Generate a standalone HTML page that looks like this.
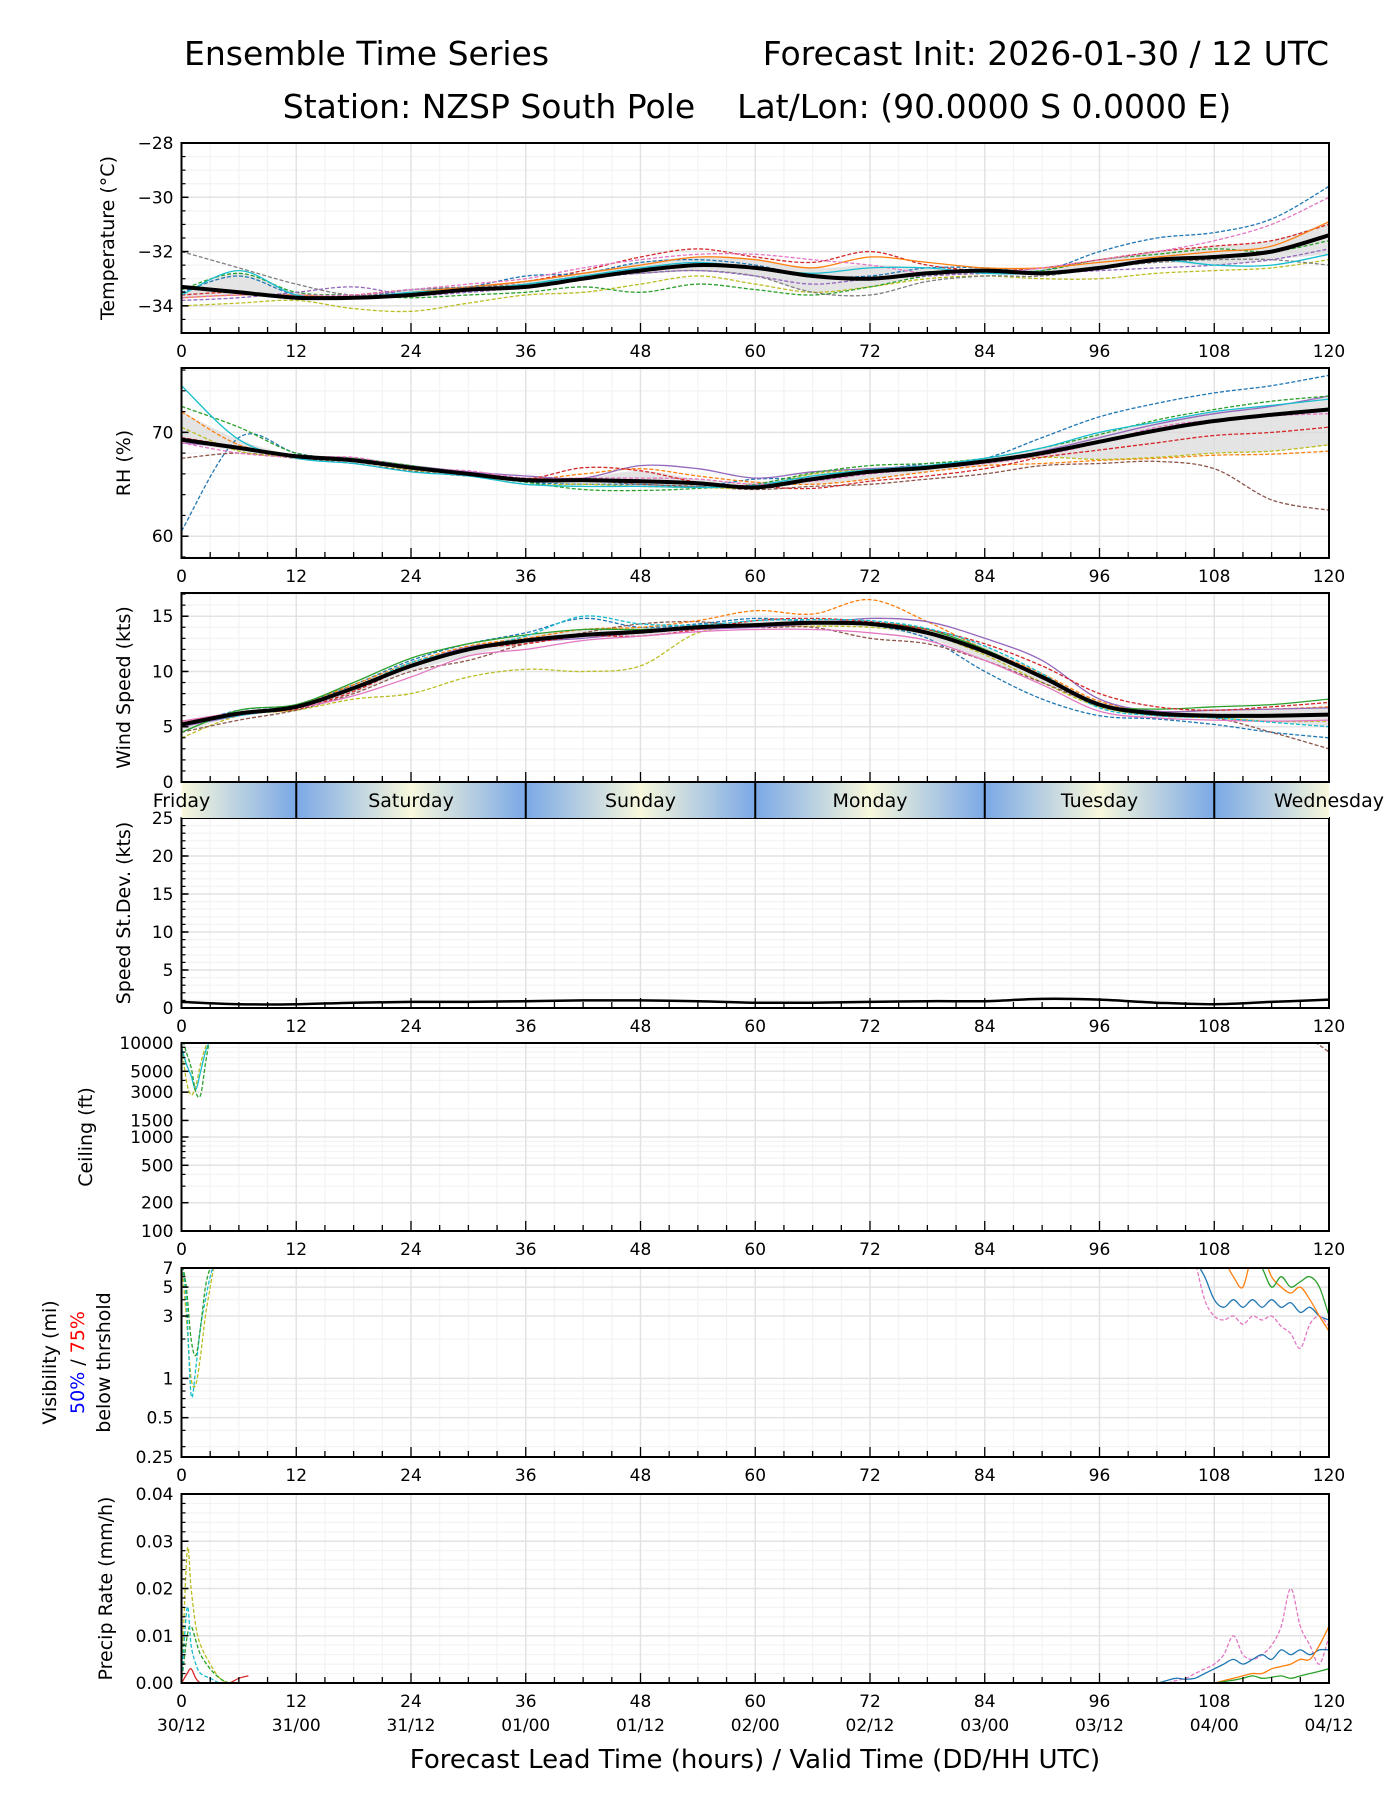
<!DOCTYPE html>
<html><head><meta charset="utf-8">
<style>
html,body{margin:0;padding:0;background:#fff}
svg{display:block;font-family:"DejaVu Sans","Liberation Sans",sans-serif}
</style></head>
<body>
<svg id="chart" width="1400" height="1800" viewBox="0 0 1400 1800" xmlns="http://www.w3.org/2000/svg">
<defs>
<linearGradient id="dayGrad" x1="181.5" x2="1329" y1="0" y2="0" gradientUnits="userSpaceOnUse">
<stop offset="0" stop-color="#f8f8dc"/><stop offset="0.1" stop-color="#7aa8e6"/>
<stop offset="0.2" stop-color="#f8f8dc"/><stop offset="0.3" stop-color="#7aa8e6"/>
<stop offset="0.4" stop-color="#f8f8dc"/><stop offset="0.5" stop-color="#7aa8e6"/>
<stop offset="0.6" stop-color="#f8f8dc"/><stop offset="0.7" stop-color="#7aa8e6"/>
<stop offset="0.8" stop-color="#f8f8dc"/><stop offset="0.9" stop-color="#7aa8e6"/>
<stop offset="1" stop-color="#f8f8dc"/>
</linearGradient>
</defs>
<text x="184" y="65" font-size="33">Ensemble Time Series</text>
<text x="1329" y="65" font-size="33" text-anchor="end">Forecast Init: 2026-01-30 / 12 UTC</text>
<text x="757" y="118" font-size="33" text-anchor="middle" style="white-space:pre" xml:space="preserve">Station: NZSP South Pole    Lat/Lon: (90.0000 S 0.0000 E)</text>
<text x="755" y="1768" font-size="26" text-anchor="middle">Forecast Lead Time (hours) / Valid Time (DD/HH UTC)</text>
<g id="plots"></g>
</svg>
<script>
const hours6=[0,6,12,18,24,30,36,42,48,54,60,66,72,78,84,90,96,102,108,114,120];
const xTicks=[0,12,24,36,48,60,72,84,96,108,120];
const dateLabels=["30/12","31/00","31/12","01/00","01/12","02/00","02/12","03/00","03/12","04/00","04/12"];
const dayNames=["Friday","Saturday","Sunday","Monday","Tuesday","Wednesday"];
const dayCenters=[0,24,48,72,96,120];

const tempMean=[-33.3,-33.5,-33.7,-33.7,-33.6,-33.4,-33.3,-33.0,-32.7,-32.5,-32.6,-32.9,-33.0,-32.8,-32.7,-32.8,-32.6,-32.3,-32.2,-32.0,-31.4];
const tempM1=[-33.6,-33.5,-33.7,-33.6,-33.4,-33.3,-33.1,-32.7,-32.2,-31.9,-32.2,-32.4,-32.0,-32.5,-32.7,-32.6,-32.3,-32.0,-31.8,-31.6,-31.0];
const tempM2=[-33.5,-32.9,-33.6,-33.7,-33.4,-33.3,-32.9,-32.8,-32.4,-32.3,-32.5,-32.9,-32.9,-32.6,-32.6,-32.7,-32.0,-31.5,-31.3,-30.8,-29.6];
const tempM3=[-34.0,-33.9,-33.8,-34.1,-34.2,-33.9,-33.6,-33.5,-33.2,-32.9,-33.2,-33.5,-33.3,-33.0,-32.9,-33.0,-33.0,-32.8,-32.7,-32.6,-32.3];
const tempM4=[-33.4,-32.8,-33.5,-33.6,-33.7,-33.6,-33.5,-33.3,-33.5,-33.2,-33.4,-33.6,-33.3,-32.9,-32.8,-32.7,-32.3,-32.1,-31.9,-32.0,-31.6];
const tempM5=[-33.7,-33.6,-33.6,-33.7,-33.5,-33.3,-33.1,-32.8,-32.5,-32.2,-32.3,-32.6,-32.2,-32.4,-32.6,-32.6,-32.4,-32.2,-32.0,-31.8,-30.9];
const tempM6=[-32.0,-32.6,-33.2,-33.6,-33.4,-33.3,-33.2,-32.9,-32.8,-32.7,-32.9,-33.5,-33.6,-33.1,-32.9,-32.9,-32.6,-32.4,-32.3,-32.3,-32.5];
const tempM7=[-33.7,-33.6,-33.6,-33.6,-33.4,-33.2,-33.0,-32.6,-32.3,-32.1,-32.1,-32.3,-32.5,-32.8,-32.8,-32.6,-32.3,-32.0,-31.6,-31.0,-30.0];
const tempM8=[-33.8,-33.7,-33.5,-33.3,-33.6,-33.5,-33.3,-33.0,-32.8,-32.7,-32.9,-33.2,-33.0,-32.9,-32.8,-32.8,-32.7,-32.6,-32.5,-32.3,-31.9];
const tempM9=[-33.6,-32.7,-33.6,-33.7,-33.5,-33.4,-33.2,-32.9,-32.6,-32.4,-32.6,-32.8,-32.6,-32.6,-32.8,-32.8,-32.6,-32.3,-32.5,-32.5,-32.1];

const rhMean=[69.3,68.5,67.7,67.3,66.6,66.0,65.4,65.4,65.3,65.1,64.7,65.5,66.2,66.6,67.2,68.0,69.1,70.2,71.1,71.7,72.2];
const rhM1=[60.5,69.5,68.0,67.2,66.6,66.0,65.2,65.0,65.0,64.8,65.5,65.6,66.3,67.0,67.5,69.5,71.5,72.8,73.8,74.5,75.5];
const rhM2=[67.5,68.0,67.5,67.0,66.3,65.8,65.6,65.4,65.0,64.8,64.5,64.8,65.0,65.5,66.0,66.8,67.0,67.2,66.5,63.5,62.5];
const rhM3=[72.0,68.8,67.8,67.3,66.5,66.2,65.5,66.0,66.5,65.8,65.2,65.0,65.5,66.2,66.8,67.0,67.3,67.5,67.8,67.9,68.2];
const rhM4=[69.0,68.5,67.8,67.5,66.8,66.2,65.8,65.6,66.8,66.5,65.6,66.2,66.5,66.8,67.2,68.2,69.5,70.8,71.8,72.5,73.5];
const rhM5=[70.5,68.2,67.6,67.2,66.4,65.9,65.0,65.0,64.8,64.7,64.7,66.0,66.4,66.6,67.2,67.6,67.4,67.6,68.0,68.2,68.8];
const rhM6=[72.5,70.5,68.0,67.5,66.8,66.0,65.2,64.5,64.4,64.6,65.0,66.1,66.8,67.0,67.5,68.5,69.8,71.2,72.2,73.0,73.5];
const rhM7=[74.5,69.3,67.5,67.0,66.2,65.8,65.0,64.8,64.8,64.7,64.9,65.8,66.4,66.8,67.5,68.5,70.0,71.0,72.0,72.6,73.2];
const rhM8=[69.0,68.0,67.6,67.6,66.6,66.3,65.6,65.6,65.6,65.5,65.0,65.3,66.0,66.5,67.0,67.8,69.0,70.5,71.2,71.6,71.8];
const rhM9=[69.5,68.6,67.7,67.4,66.7,66.0,65.5,66.6,66.3,65.2,64.8,64.6,65.3,65.8,66.5,67.6,68.3,69.0,69.7,70.0,70.5];

const windMean=[5.2,6.2,6.8,8.5,10.5,12.0,12.8,13.3,13.6,14.0,14.2,14.4,14.3,13.5,11.8,9.5,7.0,6.2,6.0,6.0,6.1];
const windM1=[4.0,6.0,6.5,7.5,8.0,9.5,10.2,10.0,10.5,13.5,14.0,14.1,14.0,13.4,11.5,9.0,6.8,6.0,5.8,5.5,5.5];
const windM2=[5.0,6.5,7.0,8.8,11.0,12.5,13.5,14.8,14.0,14.3,14.8,14.5,14.2,13.0,10.0,7.5,6.0,5.7,5.2,4.5,4.0];
const windM3=[4.5,5.6,6.5,8.0,10.0,11.0,12.5,13.5,14.3,14.5,14.0,14.0,13.0,12.5,11.0,9.0,7.0,6.0,5.8,4.5,3.0];
const windM4=[5.5,6.2,7.0,8.8,10.8,12.3,13.0,13.8,14.0,14.6,15.5,15.2,16.5,14.5,12.0,9.8,7.3,6.4,6.5,6.6,6.8];
const windM5=[5.0,6.0,6.8,8.6,10.6,12.2,12.7,13.0,13.5,13.8,14.0,14.3,14.8,14.5,13.0,11.0,7.5,6.4,6.5,6.6,6.7];
const windM6=[4.5,6.5,7.0,9.0,11.2,12.5,13.3,13.8,13.8,14.0,14.3,14.4,14.4,13.8,12.0,9.5,7.0,6.6,6.8,7.0,7.5];
const windM7=[5.3,6.2,6.6,8.2,10.5,12.0,12.5,13.2,13.2,13.8,14.6,14.8,14.5,13.8,12.5,10.5,8.0,6.8,6.5,6.8,7.2];
const windM8=[5.5,6.3,6.7,7.8,9.5,11.4,12.0,12.8,13.2,13.6,13.8,13.8,13.5,12.8,11.0,8.8,6.4,5.8,5.6,5.5,5.6];
const windM9=[5.2,6.0,6.8,8.5,10.8,12.0,13.2,15.0,14.3,14.2,14.6,14.7,14.6,13.9,12.3,9.8,6.7,6.0,5.8,5.4,5.0];

const sdMean=[0.8,0.5,0.5,0.7,0.8,0.8,0.9,1.0,1.0,0.9,0.7,0.7,0.8,0.9,0.9,1.2,1.1,0.7,0.5,0.8,1.1];

const ceilHours=[0,0.5,1,1.5,2,2.5,3];
const ceilM1=[10000,4000,2800,3500,6000,9000,12000];
const ceilM2=[9000,6000,4500,3200,5000,8000,11000];
const ceilM3=[12000,8000,5500,3000,2800,6000,12000];
const ceilEndHours=[118,119,120];
const ceilM4=[11000,9500,8000];

const visHours=[0,0.5,1,1.5,2,2.5,3,3.5];
const visM1=[8,3,1,0.9,1.5,3,5,8];
const visM2=[8,4,0.75,1.2,2.5,4,6,8];
const visM3=[8,5,2,1.5,2.5,5,7,8];
const visEndHours=[106,107,108,109,110,111,112,113,114,115,116,117,118,119,120];
const visM4=[8,6,4,3.5,4,3.5,4,3.5,4,3.5,3.8,3.2,3.5,3,2.8];
const visM5=[8,4,3,2.8,3,2.6,3,2.8,3,2.5,2.2,1.7,2.6,3,2.5];
const visM6=[9,9,9,8,6,5,9,9,6,5,4.5,5,4,3,2.3];
const visM7=[9,9,9,9,9,9,9,7,5,6,5,5.5,6,5,3];

const prHours=[0,0.6,1,1.5,2,3,4,5,6,7];
const prM1=[0,0.028,0.02,0.012,0.008,0.004,0.001,0,0,0];
const prM2=[0,0.010,0.012,0.009,0.006,0.003,0.001,0,0,0];
const prM3=[0,0.016,0.008,0.004,0.002,0.001,0,0,0,0];
const prM4=[0,0.002,0.003,0.001,0.000,0,0,0,0.001,0.0015];
const prEndHours=[100,101,102,103,104,105,106,107,108,109,110,111,112,113,114,115,116,117,118,119,120];
const prM5=[0,0,0,0,0.0005,0.001,0.002,0.003,0.004,0.006,0.010,0.006,0.005,0.006,0.008,0.012,0.020,0.012,0.008,0.004,0.010];
const prM6=[0,0,0,0.0005,0.001,0.0008,0.001,0.002,0.003,0.004,0.005,0.004,0.005,0.006,0.005,0.007,0.006,0.007,0.006,0.007,0.007];
const prM7=[0,0,0,0,0,0,0,0,0,0.0005,0.001,0.0015,0.002,0.002,0.003,0.0035,0.004,0.005,0.005,0.008,0.012];
const prM8=[0,0,0,0,0,0,0,0,0,0.0003,0.0006,0.001,0.0015,0.001,0.0012,0.0015,0.001,0.0015,0.002,0.0025,0.003];

const NS="http://www.w3.org/2000/svg";
const root=document.getElementById('plots');
const X0=181.5,X1=1329;
function xs(h){return X0+h*(X1-X0)/120;}
function mk(tag,attrs,parent){const e=document.createElementNS(NS,tag);for(const k in attrs)e.setAttribute(k,attrs[k]);(parent||root).appendChild(e);return e;}
function smooth(pts){if(pts.length<2)return'';let d='M'+pts[0][0].toFixed(1)+','+pts[0][1].toFixed(1);
 for(let i=0;i<pts.length-1;i++){const p0=pts[Math.max(0,i-1)],p1=pts[i],p2=pts[i+1],p3=pts[Math.min(pts.length-1,i+2)];
 const c1=[p1[0]+(p2[0]-p0[0])/6,p1[1]+(p2[1]-p0[1])/6],c2=[p2[0]-(p3[0]-p1[0])/6,p2[1]-(p3[1]-p1[1])/6];
 d+='C'+c1[0].toFixed(1)+','+c1[1].toFixed(1)+' '+c2[0].toFixed(1)+','+c2[1].toFixed(1)+' '+p2[0].toFixed(1)+','+p2[1].toFixed(1);}return d;}

function panel(o){
 const g=mk('g',{});
 
 
 const T=o.top,B=o.bot;
 const ys=o.log?(v=>{const a=Math.log(o.min),b=Math.log(o.max);return B-(Math.log(v)-a)/(b-a)*(B-T);}):(v=>B-(v-o.min)/(o.max-o.min)*(B-T));
 const clip=mk('clipPath',{id:'clip-'+o.name},g);mk('rect',{x:X0,y:T,width:X1-X0,height:B-T},clip);
 (o.minor||[]).forEach(v=>{const y=ys(v);mk('line',{x1:X0,x2:X1,y1:y,y2:y,stroke:'#f3f3f3','stroke-width':1.2},g);});
 for(let h=3;h<120;h+=3){if(h%12)mk('line',{x1:xs(h),x2:xs(h),y1:T,y2:B,stroke:'#f3f3f3','stroke-width':1.2},g);}
 xTicks.forEach(h=>mk('line',{x1:xs(h),x2:xs(h),y1:T,y2:B,stroke:'#e3e3e3','stroke-width':1.5},g));
 o.ticks.forEach(v=>{const y=ys(v);mk('line',{x1:X0,x2:X1,y1:y,y2:y,stroke:'#e3e3e3','stroke-width':1.5},g);});
 const dg=mk('g',{'clip-path':'url(#clip-'+o.name+')'},g);
 if(o.band){const lo=[],hi=[];o.bandX.forEach((h,i)=>{const vals=o.series.map(s=>s.v[i]).sort((a,b)=>a-b);lo.push([xs(h),ys(vals[2])]);hi.push([xs(h),ys(vals[vals.length-3])]);});
  const p=mk('path',{d:smooth(lo)+'L'+smooth(hi.reverse()).slice(1),fill:'#d8d8d8','fill-opacity':0.7,stroke:'none'},dg);
  }
 o.series.forEach((s,i)=>{const pts=s.x.map((h,j)=>[xs(h),ys(s.v[j])]);
  const p=mk('path',{d:smooth(pts),fill:'none',stroke:s.c,'stroke-width':s.w||1.3,'stroke-dasharray':s.dash?'4,2':'none'},dg);
  });
 if(o.mean){const pts=hours6.map((h,j)=>[xs(h),ys(o.mean[j])]);
  const p=mk('path',{d:smooth(pts),fill:'none',stroke:'#000','stroke-width':o.meanW||4},dg);
  }
 (o.minor||[]).forEach(v=>{const y=ys(v);mk('line',{x1:X0,x2:X0+4,y1:y,y2:y,stroke:'#000','stroke-width':1.2},g);});
 o.ticks.forEach((v,i)=>{const y=ys(v);mk('line',{x1:X0,x2:X0+7,y1:y,y2:y,stroke:'#000','stroke-width':1.5},g);
  const t=mk('text',{x:X0-8,y:y+6,'font-size':17,'text-anchor':'end'},g);t.textContent=o.labels[i];
  });
 for(let h=3;h<120;h+=3)mk('line',{x1:xs(h),x2:xs(h),y1:B,y2:B-(h%12?6:10),stroke:'#000','stroke-width':1.3},g);
 if(!o.noX)xTicks.forEach(h=>{const t=mk('text',{x:xs(h),y:B+24,'font-size':17,'text-anchor':'middle'},g);t.textContent=h;
  });
 mk('rect',{x:X0,y:T,width:X1-X0,height:B-T,fill:'none',stroke:'#000','stroke-width':2},g);
 const ly=(T+B)/2;
 (o.ylab||[]).forEach((l,i)=>{const t=mk('text',{transform:`translate(${l.x},${ly}) rotate(-90)`,'font-size':19,'text-anchor':'middle'},g);
  if(l.parts){l.parts.forEach(p=>{const ts=mk('tspan',{fill:p.c},t);ts.textContent=p.t;});}else t.textContent=l.t;
  });
 return {g,ys};
}
const C={blue:'#1f77b4',orange:'#ff7f0e',green:'#2ca02c',red:'#d62728',purple:'#9467bd',brown:'#8c564b',pink:'#e377c2',gray:'#7f7f7f',olive:'#bcbd22',cyan:'#17becf'};
function S(v,c,dash,x){return {v,c,dash,x:x||hours6};}
function rng(a,b,s){const r=[];for(let v=a;v<=b+1e-9;v+=s)r.push(+v.toFixed(4));return r;}

panel({name:'temperature',top:143,bot:333,min:-35,max:-28,ticks:[-34,-32,-30,-28],labels:['\u221234','\u221232','\u221230','\u221228'],minor:rng(-34.5,-28.5,0.5),
 band:true,bandX:hours6,mean:tempMean,
 series:[S(tempM1,C.red,1),S(tempM2,C.blue,1),S(tempM3,C.olive,1),S(tempM4,C.green,1),S(tempM5,C.orange,0),S(tempM6,C.gray,1),S(tempM7,C.pink,1),S(tempM8,C.purple,1),S(tempM9,C.cyan,0)],
 ylab:[{x:114,t:'Temperature (\u00b0C)'}]});
panel({name:'rh',top:368,bot:558,min:57.9,max:76.2,ticks:[60,70],labels:['60','70'],minor:rng(58,76,2),
 band:true,bandX:hours6,mean:rhMean,
 series:[S(rhM1,C.blue,1),S(rhM2,C.brown,1),S(rhM3,C.orange,1),S(rhM4,C.purple,0),S(rhM5,C.olive,1),S(rhM6,C.green,1),S(rhM7,C.cyan,0),S(rhM8,C.pink,1),S(rhM9,C.red,1)],
 ylab:[{x:130,t:'RH (%)'}]});
panel({name:'wind-speed',top:593,bot:782,min:0,max:17.1,ticks:[0,5,10,15],labels:['0','5','10','15'],minor:rng(1,17,1),noX:true,
 band:true,bandX:hours6,mean:windMean,
 series:[S(windM1,C.olive,1),S(windM2,C.blue,1),S(windM3,C.brown,1),S(windM4,C.orange,1),S(windM5,C.purple,0),S(windM6,C.green,0),S(windM7,C.red,1),S(windM8,C.pink,0),S(windM9,C.cyan,1)],
 ylab:[{x:130,t:'Wind Speed (kts)'}]});
panel({name:'speed-stdev',top:818,bot:1008,min:0,max:25,ticks:[0,5,10,15,20,25],labels:['0','5','10','15','20','25'],minor:rng(1,24,1),
 mean:sdMean,meanW:2.5,series:[],ylab:[{x:130,t:'Speed St.Dev. (kts)'}]});
panel({name:'ceiling',top:1043,bot:1231,min:100,max:10000,log:true,ticks:[100,200,500,1000,1500,3000,5000,10000],labels:['100','200','500','1000','1500','3000','5000','10000'],minor:[300,400,600,700,800,900,2000,4000,6000,7000,8000,9000],
 series:[S(ceilM1,C.olive,1,ceilHours),S(ceilM2,C.cyan,0,ceilHours),S(ceilM3,C.green,1,ceilHours),S(ceilM4,C.brown,1,ceilEndHours)],
 ylab:[{x:92,t:'Ceiling (ft)'}]});
panel({name:'visibility',top:1268,bot:1457,min:0.25,max:7,log:true,ticks:[0.25,0.5,1,3,5,7],labels:['0.25','0.5','1','3','5','7'],minor:[0.3,0.4,0.6,0.7,0.8,0.9,2,4,6],
 series:[S(visM1,C.olive,1,visHours),S(visM2,C.cyan,1,visHours),S(visM3,C.green,1,visHours),S(visM4,C.blue,0,visEndHours),S(visM5,C.pink,1,visEndHours),S(visM6,C.orange,0,visEndHours),S(visM7,C.green,0,visEndHours)],
 ylab:[{x:56,t:'Visibility (mi)'},{x:84,parts:[{t:'50%',c:'#0000ff'},{t:' / ',c:'#000'},{t:'75%',c:'#ff0000'}]},{x:110,t:'below thrshold'}]});
panel({name:'precip-rate',top:1494,bot:1683,min:0,max:0.04,ticks:[0,0.01,0.02,0.03,0.04],labels:['0.00','0.01','0.02','0.03','0.04'],minor:rng(0.002,0.038,0.002),
 series:[S(prM1,C.olive,1,prHours),S(prM2,C.green,1,prHours),S(prM3,C.cyan,1,prHours),S(prM4,C.red,0,prHours),S(prM5,C.pink,1,prEndHours),S(prM6,C.blue,0,prEndHours),S(prM7,C.orange,0,prEndHours),S(prM8,C.green,0,prEndHours)],
 ylab:[{x:112,t:'Precip Rate (mm/h)'}]});

xTicks.forEach((h,i)=>{const t=mk('text',{x:xs(h),y:1731,'font-size':17,'text-anchor':'middle'});t.textContent=dateLabels[i];
 });
const band=mk('rect',{x:X0,y:783,width:X1-X0,height:35,fill:'url(#dayGrad)'});

[12,36,60,84,108].forEach(h=>mk('line',{x1:xs(h),x2:xs(h),y1:783,y2:818,stroke:'#000','stroke-width':2}));
dayNames.forEach((n,i)=>{const t=mk('text',{x:xs(dayCenters[i]),y:807,'font-size':19,'text-anchor':'middle'});t.textContent=n;
 });
</script>
</body></html>
